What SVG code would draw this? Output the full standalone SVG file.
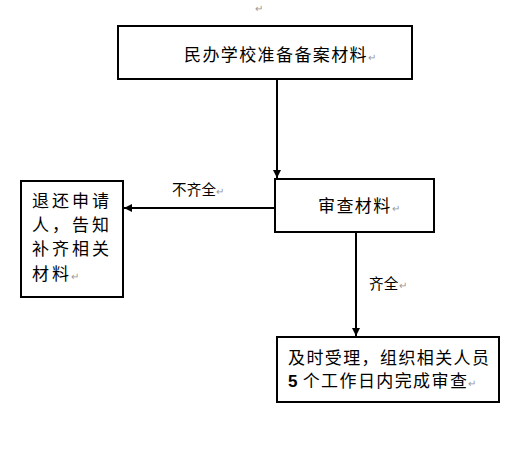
<svg xmlns="http://www.w3.org/2000/svg" width="517" height="459" viewBox="0 0 517 459">
<defs>
<style>
.box{fill:#fff;stroke:#000;stroke-width:2}
.t{font-family:"Noto Sans CJK SC","Liberation Sans",sans-serif;font-size:17px;fill:#000;letter-spacing:1.4px}
.l{font-family:"Noto Sans CJK SC","Liberation Sans",sans-serif;font-size:14.5px;fill:#000;letter-spacing:0.3px}
.pm{fill:#999;font-size:10px;letter-spacing:0}
.c{stroke:#000;stroke-width:2;fill:none}
</style>
<marker id="ah" viewBox="0 0 10 10" refX="10" refY="5" markerWidth="8" markerHeight="8" markerUnits="userSpaceOnUse" orient="auto">
<path d="M0,0 L10,5 L0,10 z" fill="#000"/>
</marker>
</defs>
<text x="255" y="12" class="l"><tspan class="pm">↵</tspan></text>
<g id="connectors">
<line class="c" x1="277" y1="79" x2="277" y2="178" marker-end="url(#ah)"/>
<line class="c" x1="275" y1="208" x2="124" y2="208" marker-end="url(#ah)"/>
<line class="c" x1="356" y1="232" x2="356" y2="336" marker-end="url(#ah)"/>
<text class="l" x="172" y="195">不齐全<tspan class="pm">↵</tspan></text>
<text class="l" x="369" y="289">齐全<tspan class="pm">↵</tspan></text>
</g>
<g id="n1">
<rect class="box" x="118" y="26" width="294" height="53"/>
<text class="t" x="184" y="61">民办学校准备备案材料<tspan class="pm">↵</tspan></text>
</g>
<g id="n2">
<rect class="box" x="275" y="179" width="159" height="53"/>
<text class="t" x="318" y="212">审查材料<tspan class="pm">↵</tspan></text>
</g>
<g id="n3">
<rect class="box" x="21" y="181" width="102" height="116"/>
<text class="t" x="32" y="207" style="letter-spacing:3px">退还申请</text>
<text class="t" x="32" y="231" style="letter-spacing:3px">人，告知</text>
<text class="t" x="32" y="255" style="letter-spacing:3px">补齐相关</text>
<text class="t" x="32" y="280" style="letter-spacing:3px">材料<tspan class="pm" dx="-1">↵</tspan></text>
</g>
<g id="n4">
<rect class="box" x="277" y="337" width="222" height="65"/>
<text class="t" x="288" y="364">及时受理，组织相关人员</text>
<text class="t" x="288" y="387"><tspan font-weight="bold" style="font-family:'Liberation Sans',sans-serif;letter-spacing:0">5</tspan> 个工作日内完成审查<tspan class="pm">↵</tspan></text>
</g>
</svg>
